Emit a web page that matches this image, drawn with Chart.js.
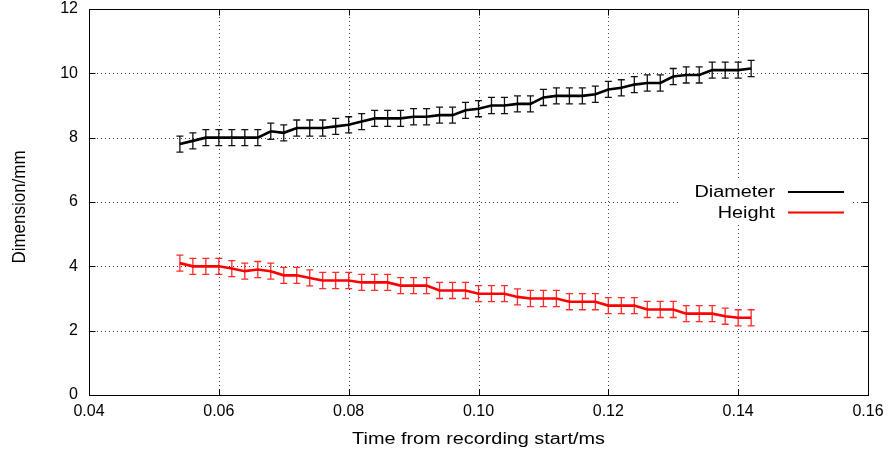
<!DOCTYPE html>
<html>
<head>
<meta charset="utf-8">
<script src="https://cdn.jsdelivr.net/npm/chart.js@4.4.1/dist/chart.umd.min.js"></script>
<style>
  html, body { margin: 0; padding: 0; background: #fff; }
</style>
</head>
<body>
<canvas id="c" width="892" height="462"></canvas>
<script>
// Sample times (ms from recording start)
const timeMs = [
  0.054, 0.056, 0.058, 0.060, 0.062, 0.064, 0.066, 0.068, 0.070, 0.072,
  0.074, 0.076, 0.078, 0.080, 0.082, 0.084, 0.086, 0.088, 0.090, 0.092,
  0.094, 0.096, 0.098, 0.100, 0.102, 0.104, 0.106, 0.108, 0.110, 0.112,
  0.114, 0.116, 0.118, 0.120, 0.122, 0.124, 0.126, 0.128, 0.130, 0.132,
  0.134, 0.136, 0.138, 0.140, 0.142
];

// Measured diameter (mm)
const diameter = [
  7.8, 7.9, 8.0, 8.0, 8.0, 8.0, 8.0, 8.2, 8.15, 8.3,
  8.3, 8.3, 8.35, 8.4, 8.5, 8.6, 8.6, 8.6, 8.65, 8.65,
  8.7, 8.7, 8.85, 8.9, 9.0, 9.0, 9.05, 9.05, 9.25, 9.3,
  9.3, 9.3, 9.35, 9.5, 9.55, 9.65, 9.7, 9.7, 9.9, 9.95,
  9.95, 10.1, 10.1, 10.1, 10.15
];

// Measured height (mm)
const height = [
  4.1, 4.0, 4.0, 4.0, 3.93, 3.85, 3.9, 3.85, 3.72, 3.72,
  3.64, 3.56, 3.56, 3.56, 3.5, 3.5, 3.5, 3.4, 3.4, 3.4,
  3.25, 3.25, 3.25, 3.15, 3.15, 3.15, 3.05, 3.0, 3.0, 3.0,
  2.9, 2.9, 2.9, 2.78, 2.78, 2.78, 2.66, 2.66, 2.66, 2.53,
  2.53, 2.53, 2.45, 2.4, 2.4
];

// Measurement uncertainty (± mm)
const diameterError = 0.25;
const heightError = 0.25;

const seriesNames = ['Diameter', 'Height'];
const seriesColors = ['#000000', '#ff0000'];
const errorColors = ['#111111', '#ff2a2a'];
const xTitle = 'Time from recording start/ms';
const yTitle = 'Dimension/mm';

const FONT = 'Liberation Sans, Arial, Helvetica, sans-serif';
const TEXT_STRETCH = 1.24;

const toPoints = (ys) => timeMs.map((t, i) => ({ x: t, y: ys[i] }));

// draws text widened horizontally, anchored at (x, y)
function wideText(ctx, text, x, y, align, stretch) {
  ctx.save();
  ctx.translate(x, y);
  ctx.scale(stretch, 1);
  ctx.textAlign = align;
  ctx.fillText(text, 0, 0);
  ctx.restore();
}

// Dotted grid, inward ticks on all four sides, error bars, key and axis titles
const framePlugin = {
  id: 'frame',
  beforeDatasetsDraw(chart) {
    const { ctx, chartArea: a, scales: { x, y } } = chart;
    ctx.save();
    ctx.strokeStyle = '#3a3a3a';
    ctx.lineWidth = 1;
    ctx.setLineDash([1, 3]);
    x.ticks.forEach(t => {
      if (t.value <= x.min || t.value >= x.max) return;
      const px = Math.round(x.getPixelForValue(t.value)) + 0.5;
      ctx.beginPath(); ctx.moveTo(px, a.top); ctx.lineTo(px, a.bottom); ctx.stroke();
    });
    y.ticks.forEach(t => {
      if (t.value <= y.min || t.value >= y.max) return;
      const py = Math.round(y.getPixelForValue(t.value)) + 0.5;
      ctx.beginPath(); ctx.moveTo(a.left, py); ctx.lineTo(a.right, py); ctx.stroke();
    });
    ctx.setLineDash([]);
    // key background
    ctx.fillStyle = '#fff';
    ctx.fillRect(a.right - 187, a.top + 172, 171, 41);

    // frame and inward ticks
    ctx.strokeStyle = '#000';
    ctx.lineWidth = 1;
    const L = Math.round(a.left) + 0.5, R = Math.round(a.right) + 0.5;
    const T = Math.round(a.top) + 0.5, B = Math.round(a.bottom) + 0.5;
    ctx.strokeRect(L, T, R - L, B - T);
    const tl = 6;
    x.ticks.forEach(t => {
      const px = Math.round(x.getPixelForValue(t.value)) + 0.5;
      ctx.beginPath();
      ctx.moveTo(px, B); ctx.lineTo(px, B - tl);
      ctx.moveTo(px, T); ctx.lineTo(px, T + tl);
      ctx.stroke();
    });
    y.ticks.forEach(t => {
      const py = Math.round(y.getPixelForValue(t.value)) + 0.5;
      ctx.beginPath();
      ctx.moveTo(L, py); ctx.lineTo(L + tl, py);
      ctx.moveTo(R, py); ctx.lineTo(R - tl, py);
      ctx.stroke();
    });

    // error bars
    const errs = [diameterError, heightError];
    chart.data.datasets.forEach((ds, i) => {
      const meta = chart.getDatasetMeta(i);
      ctx.strokeStyle = errorColors[i];
      ctx.lineWidth = 1.3;
      meta.data.forEach((pt, j) => {
        const v = ds.data[j].y;
        const yTop = y.getPixelForValue(v + errs[i]);
        const yBot = y.getPixelForValue(v - errs[i]);
        const cx = pt.x;
        ctx.beginPath();
        ctx.moveTo(cx, yTop); ctx.lineTo(cx, yBot);
        ctx.moveTo(cx - 3.5, yTop); ctx.lineTo(cx + 3.5, yTop);
        ctx.moveTo(cx - 3.5, yBot); ctx.lineTo(cx + 3.5, yBot);
        ctx.stroke();
      });
    });
    ctx.restore();
  },
  afterDraw(chart) {
    const { ctx, chartArea: a } = chart;
    ctx.save();
    ctx.font = '16px ' + FONT;
    ctx.fillStyle = '#000';
    ctx.textBaseline = 'middle';

    // key
    seriesNames.forEach((name, i) => {
      const ly = a.top + 183 + i * 20.5;
      ctx.fillStyle = '#000';
      wideText(ctx, name, a.right - 93, ly + 1, 'right', TEXT_STRETCH);
      ctx.strokeStyle = seriesColors[i];
      ctx.lineWidth = 2;
      ctx.beginPath();
      ctx.moveTo(a.right - 80, ly); ctx.lineTo(a.right - 24, ly);
      ctx.stroke();
    });

    // axis titles
    ctx.fillStyle = '#000';
    wideText(ctx, xTitle, (a.left + a.right) / 2, 440, 'center', TEXT_STRETCH);
    ctx.save();
    ctx.translate(20, (a.top + a.bottom) / 2 + 5);
    ctx.rotate(-Math.PI / 2);
    ctx.scale(1.06, 1.15);
    ctx.textAlign = 'center';
    ctx.fillText(yTitle, 0, 0);
    ctx.restore();
    ctx.restore();
  }
};

new Chart(document.getElementById('c'), {
  type: 'scatter',
  data: {
    datasets: [
      {
        label: seriesNames[0],
        data: toPoints(diameter),
        showLine: true,
        borderColor: seriesColors[0],
        backgroundColor: seriesColors[0],
        borderWidth: 2.6,
        pointRadius: 0,
        tension: 0
      },
      {
        label: seriesNames[1],
        data: toPoints(height),
        showLine: true,
        borderColor: seriesColors[1],
        backgroundColor: seriesColors[1],
        borderWidth: 2.6,
        pointRadius: 0,
        tension: 0
      }
    ]
  },
  options: {
    responsive: false,
    animation: false,
    devicePixelRatio: 1,
    layout: { padding: { left: 0, right: 24, top: 9, bottom: 0 } },
    plugins: {
      legend: { display: false },
      tooltip: { enabled: false }
    },
    scales: {
      x: {
        type: 'linear',
        min: 0.04,
        max: 0.16,
        grid: { display: false, drawTicks: false },
        border: { display: false },
        ticks: {
          stepSize: 0.02,
          color: '#000',
          padding: 7,
          maxRotation: 0,
          font: { family: FONT, size: 16 }
        },
        afterFit(scale) {
          scale.height = 67;
          scale.paddingLeft = 0;
          scale.paddingRight = 0;
        }
      },
      y: {
        type: 'linear',
        min: 0,
        max: 12,
        grid: { display: false, drawTicks: false },
        border: { display: false },
        ticks: {
          stepSize: 2,
          color: '#000',
          padding: 11,
          font: { family: FONT, size: 16 }
        },
        afterFit(scale) {
          scale.width = 89;
          scale.paddingTop = 0;
          scale.paddingBottom = 0;
        }
      }
    }
  },
  plugins: [framePlugin]
});
</script>
</body>
</html>
